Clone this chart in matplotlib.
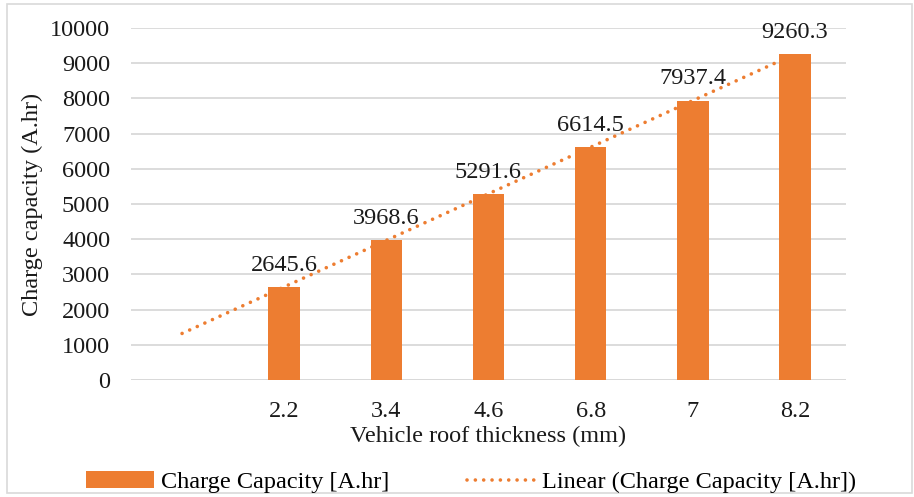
import numpy as np
import matplotlib.pyplot as plt
from matplotlib.patches import Rectangle

# Charge capacity for each roof thickness (first category slot is left empty)
thickness = ["", "2.2", "3.4", "4.6", "6.8", "7", "8.2"]
capacity = [np.nan, 2645.6, 3968.6, 5291.6, 6614.5, 7937.4, 9260.3]
y_ticks = [0, 1000, 2000, 3000, 4000, 5000, 6000, 7000, 8000, 9000, 10000]

orange = "#ED7D31"
plt.rcParams["font.family"] = ["Liberation Serif", "DejaVu Serif"]
plt.rcParams["font.size"] = 17.5

fig = plt.figure(figsize=(9.14, 4.97), dpi=100)
ax = fig.add_axes([131 / 914, 1 - 380 / 497, 715 / 914, 352 / 497])

x = np.arange(1, len(thickness) + 1)
vals = np.array(capacity)
bars = ax.bar(x, vals, width=0.31, color=orange, zorder=3,
              label="Charge Capacity [A.hr]")

for xi, v in zip(x, vals):
    if np.isnan(v):
        continue
    ax.annotate(f"{v:.1f}", (xi, v), xytext=(0, 8), textcoords="offset points",
                ha="center", va="bottom", color="#1a1a1a")

# Linear trendline fitted on the filled categories, extended back to the first slot
mask = ~np.isnan(vals)
slope, intercept = np.polyfit(x[mask], vals[mask], 1)
tx = np.array([x[0], x[-1]])
trend, = ax.plot(tx, slope * tx + intercept, color=orange, lw=2.6,
                 linestyle=(0, (0.01, 2.3)), dash_capstyle="round", zorder=4,
                 label="Linear (Charge Capacity [A.hr])")

ax.set_xlim(0.5, len(thickness) + 0.5)
ax.set_ylim(0, 10000)
ax.set_xticks(x)
ax.set_xticklabels(thickness)
ax.set_yticks(y_ticks)
ax.yaxis.grid(True, color="#d9d9d9", lw=1.3, zorder=0)
ax.tick_params(length=0, colors="#1a1a1a")
ax.tick_params(axis="x", pad=15)
ax.tick_params(axis="y", pad=15)
for s in ax.spines.values():
    s.set_visible(False)
ax.axhline(0, color="#d9d9d9", lw=1.3, zorder=2)

ax.set_xlabel("Vehicle roof thickness (mm)", color="#1a1a1a")
ax.xaxis.set_label_coords(0.5, (380 - 436) / 352)
ax.xaxis.label.set_va("center")
ax.set_ylabel("Charge capacity (A.hr)", color="#1a1a1a")
ax.yaxis.set_label_coords((32 - 131) / 715, 0.5)
ax.yaxis.label.set_va("center")

fig.legend(handles=[bars, trend], loc="center",
           bbox_to_anchor=(0.515, 1 - 482 / 497), ncol=2,
           frameon=False, handlelength=2.8, handletextpad=0.28,
           columnspacing=3.2)

# Light frame around the whole chart
fig.patches.append(Rectangle((7 / 914, 4 / 497), 905 / 914, 489 / 497,
                             transform=fig.transFigure, fill=False,
                             edgecolor="#d9d9d9", lw=1.2))

fig.savefig("out.png", dpi=100)
